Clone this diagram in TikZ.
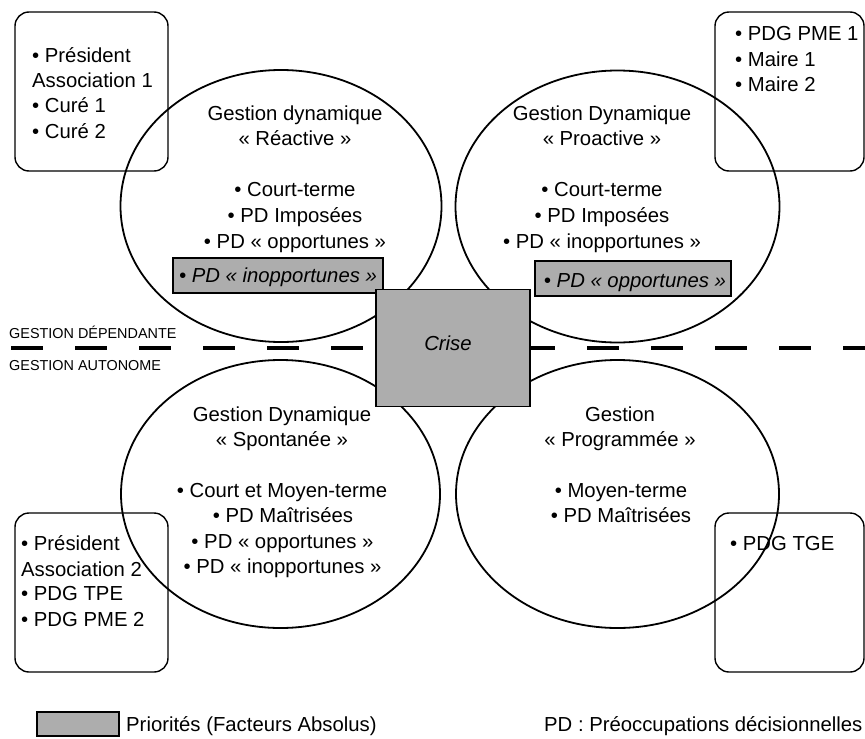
\documentclass[tikz,border=0pt]{standalone}
\usepackage{fontspec}
\setmainfont{Liberation Sans}
\usetikzlibrary{shapes.geometric}
\definecolor{prio}{RGB}{173,173,173}
\begin{document}
\begin{tikzpicture}[x=1pt,y=-1pt,
  ell/.style={draw, ellipse, line width=1.8pt, inner sep=0pt, outer sep=0pt},
  rbox/.style={draw, rectangle, rounded corners=14pt, line width=1.4pt, inner sep=0pt, outer sep=0pt},
  prio/.style={draw, rectangle, fill=prio, line width=1.5pt, inner sep=0pt, outer sep=0pt},
  txt/.style={font=\fontsize{20.3}{24}\selectfont, inner sep=0pt, anchor=base},
  txtl/.style={txt, anchor=base west},
  txti/.style={txt, font=\fontsize{20.3}{24}\selectfont\itshape},
  lab/.style={font=\fontsize{14.4}{16}\selectfont, inner sep=0pt, anchor=base west},
  dashline/.style={line width=4.5pt, dash pattern=on 32pt off 32pt}
]
\useasboundingbox (0,0) rectangle (865,739);

% ellipses
\node[ell, minimum width=321pt, minimum height=272pt] (e1) at (281,206) {};
\node[ell, minimum width=324pt, minimum height=272pt] (e2) at (617.5,206.5) {};
\node[ell, minimum width=319pt, minimum height=268pt] (e3) at (280.5,494) {};
\node[ell, minimum width=323pt, minimum height=268pt] (e4) at (617.5,494) {};

% rounded boxes
\node[rbox, minimum width=153pt, minimum height=159pt] (b1) at (91.5,91.5) {};
\node[rbox, minimum width=149pt, minimum height=159pt] (b2) at (789.5,91.5) {};
\node[rbox, minimum width=153pt, minimum height=159pt] (b3) at (91.5,592.5) {};
\node[rbox, minimum width=149pt, minimum height=159pt] (b4) at (789.5,592.5) {};

% dashed separation line
\coordinate (dl) at (11,348);
\coordinate (dr) at (865,348);
\draw[dashline] (dl) -- (dr);

% priority boxes
\node[prio, minimum width=210pt, minimum height=35pt] (g1) at (278,275.5) {};
\node[prio, minimum width=196pt, minimum height=35pt] (g2) at (633,278.5) {};
\node[prio, minimum width=154pt, minimum height=117pt] (crise) at (453,348) {};
\node[prio, minimum width=82pt, minimum height=24pt] (leg) at (78,724) {};

% texts ellipse 1
\node[txt] (e1t1) at (295,120.7) {Gestion dynamique};
\node[txt] (e1t2) at (295,145.7) {« Réactive »};
\node[txt] (e1t3) at (295,196.7) {• Court-terme};
\node[txt] (e1t4) at (295,222.2) {• PD Imposées};
\node[txt] (e1t5) at (295,248) {• PD « opportunes »};
\node[txti] (g1t) at (278,282) {• PD « inopportunes »};

% texts ellipse 2
\node[txt] (e2t1) at (602,120.7) {Gestion Dynamique};
\node[txt] (e2t2) at (602,145.7) {« Proactive »};
\node[txt] (e2t3) at (602,196.7) {• Court-terme};
\node[txt] (e2t4) at (602,222.5) {• PD Imposées};
\node[txt] (e2t5) at (602,248.3) {• PD « inopportunes »};
\node[txti] (g2t) at (635,287.3) {• PD « opportunes »};

% crise
\node[txti] (criset) at (448,350) {Crise};

% texts ellipse 3
\node[txt] (e3t1) at (282,421) {Gestion Dynamique};
\node[txt] (e3t2) at (282,446) {« Spontanée »};
\node[txt] (e3t3) at (282,497.3) {• Court et Moyen-terme};
\node[txt] (e3t4) at (283,522.7) {• PD Maîtrisées};
\node[txt] (e3t5) at (282.5,548.3) {• PD « opportunes »};
\node[txt] (e3t6) at (282.5,573.3) {• PD « inopportunes »};

% texts ellipse 4
\node[txt] (e4t1) at (620,421) {Gestion};
\node[txt] (e4t2) at (620,446) {« Programmée »};
\node[txt] (e4t3) at (621,497.3) {• Moyen-terme};
\node[txt] (e4t4) at (621,522.7) {• PD Maîtrisées};

% box texts
\node[txtl] (b1t1) at (32,62.3) {• Président};
\node[txtl] (b1t2) at (32,87.6) {Association 1};
\node[txtl] (b1t3) at (32,112.9) {• Curé 1};
\node[txtl] (b1t4) at (32,138.2) {• Curé 2};

\node[txtl] (b2t1) at (735,40.7) {• PDG PME 1};
\node[txtl] (b2t2) at (735,66) {• Maire 1};
\node[txtl] (b2t3) at (735,91.7) {• Maire 2};

\node[txtl] (b3t1) at (21,550) {• Président};
\node[txtl] (b3t2) at (21,576) {Association 2};
\node[txtl] (b3t3) at (21,600.7) {• PDG TPE};
\node[txtl] (b3t4) at (21,626) {• PDG PME 2};

\node[txtl] (b4t1) at (730,550) {• PDG TGE};

% side labels
\node[lab] (ldep) at (9,338.3) {GESTION DÉPENDANTE};
\node[lab] (laut) at (9,370) {GESTION AUTONOME};

% legend
\node[txtl] (legt) at (126,731.7) {Priorités (Facteurs Absolus)};
\node[txtl] (pdt) at (544,731.7) {PD : Préoccupations décisionnelles};
\end{tikzpicture}
\end{document}
